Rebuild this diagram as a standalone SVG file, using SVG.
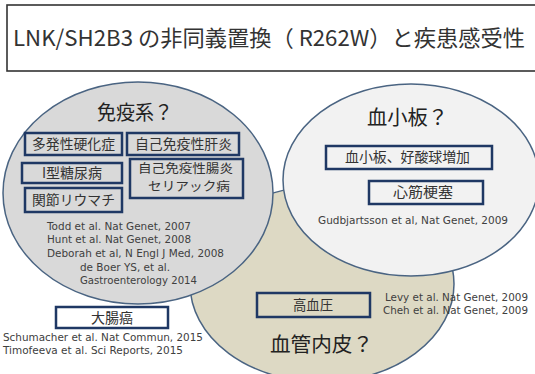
<svg xmlns="http://www.w3.org/2000/svg" width="535" height="374" viewBox="0 0 535 374">
<style>
.jp{font-family:"Noto Sans CJK JP","Noto Sans",sans-serif;fill:#333}
.ref{font-family:"DejaVu Sans",Verdana,sans-serif;font-size:10.3px;fill:#404040}
.box{fill:none;stroke:#1f3864;stroke-width:2.5}
.ell{stroke:#4a6482;stroke-width:1.5}
.bt{font-size:14px}
.bt2{font-size:12.5px}
.head{font-size:20px;fill:#222}
</style>
<rect width="535" height="374" fill="#ffffff"/>
<g id="title">
<rect x="7" y="5" width="540" height="66" fill="#ffffff" stroke="#333333" stroke-width="1.6"/>
<text class="jp" x="13" y="46" font-size="22" textLength="512" lengthAdjust="spacingAndGlyphs" fill="#222">LNK/SH2B3 の非同義置換（ R262W）と疾患感受性</text>
</g>
<g id="vascular">
<ellipse class="ell" cx="322" cy="284" rx="132" ry="98" fill="#ddd9c4"/>
</g>
<g id="immune">
<ellipse class="ell" cx="138" cy="193" rx="135" ry="111" fill="#d9d9d9"/>
<text class="jp head" x="97" y="120" textLength="76" lengthAdjust="spacingAndGlyphs">免疫系？</text>
<rect class="box" x="25" y="133" width="97" height="22"/>
<text class="jp bt" x="32" y="149" textLength="83" lengthAdjust="spacingAndGlyphs">多発性硬化症</text>
<rect class="box" x="127" y="133" width="112" height="22"/>
<text class="jp bt" x="135" y="149" textLength="97" lengthAdjust="spacingAndGlyphs">自己免疫性肝炎</text>
<rect class="box" x="22" y="163" width="100" height="20"/>
<text class="jp bt" x="42" y="178" textLength="60" lengthAdjust="spacingAndGlyphs">I型糖尿病</text>
<rect class="box" x="130" y="159" width="113" height="39"/>
<text class="jp bt2" x="138" y="173" textLength="95" lengthAdjust="spacingAndGlyphs">自己免疫性腸炎</text>
<text class="jp bt2" x="148" y="191" textLength="82" lengthAdjust="spacingAndGlyphs">セリアック病</text>
<rect class="box" x="25" y="188" width="97" height="24"/>
<text class="jp bt" x="32" y="205" textLength="83" lengthAdjust="spacingAndGlyphs">関節リウマチ</text>
<text class="ref" x="47" y="230" textLength="144" lengthAdjust="spacingAndGlyphs">Todd et al. Nat Genet, 2007</text>
<text class="ref" x="47" y="243" textLength="144" lengthAdjust="spacingAndGlyphs">Hunt et al. Nat Genet, 2008</text>
<text class="ref" x="47" y="257" textLength="177" lengthAdjust="spacingAndGlyphs">Deborah et al, N Engl J Med, 2008</text>
<text class="ref" x="80" y="271" textLength="90" lengthAdjust="spacingAndGlyphs">de Boer YS, et al.</text>
<text class="ref" x="80" y="284" textLength="117" lengthAdjust="spacingAndGlyphs">Gastroenterology 2014</text>
</g>
<g id="platelet">
<ellipse class="ell" cx="411" cy="180" rx="128" ry="96" fill="#f2f2f2"/>
<text class="jp head" x="367" y="125" textLength="81" lengthAdjust="spacingAndGlyphs">血小板？</text>
<rect class="box" x="326" y="146" width="166" height="23"/>
<text class="jp bt" x="345" y="162" textLength="125" lengthAdjust="spacingAndGlyphs">血小板、好酸球増加</text>
<rect class="box" x="369" y="181" width="114" height="23"/>
<text class="jp bt" x="393" y="197" textLength="60" lengthAdjust="spacingAndGlyphs">心筋梗塞</text>
<text class="ref" x="318" y="224" textLength="190" lengthAdjust="spacingAndGlyphs">Gudbjartsson et al, Nat Genet, 2009</text>
</g>
<g id="hypertension">
<rect class="box" x="257" y="293" width="113" height="24"/>
<text class="jp bt" x="293" y="310" textLength="40" lengthAdjust="spacingAndGlyphs">高血圧</text>
<text class="ref" x="385" y="301" textLength="143" lengthAdjust="spacingAndGlyphs">Levy et al. Nat Genet, 2009</text>
<text class="ref" x="383" y="314" textLength="145" lengthAdjust="spacingAndGlyphs">Cheh et al. Nat Genet, 2009</text>
<text class="jp head" x="270" y="352" font-size="21" textLength="103" lengthAdjust="spacingAndGlyphs">血管内皮？</text>
</g>
<g id="colorectal">
<rect x="56" y="307" width="112" height="21" fill="#ffffff" stroke="#1f3864" stroke-width="2.5"/>
<text class="jp bt" x="91" y="323" textLength="42" lengthAdjust="spacingAndGlyphs">大腸癌</text>
<text class="ref" x="3" y="341" textLength="200" lengthAdjust="spacingAndGlyphs">Schumacher et al. Nat Commun, 2015</text>
<text class="ref" x="3" y="354" textLength="180" lengthAdjust="spacingAndGlyphs">Timofeeva et al. Sci Reports, 2015</text>
</g>
<g id="connectors"></g>
</svg>
